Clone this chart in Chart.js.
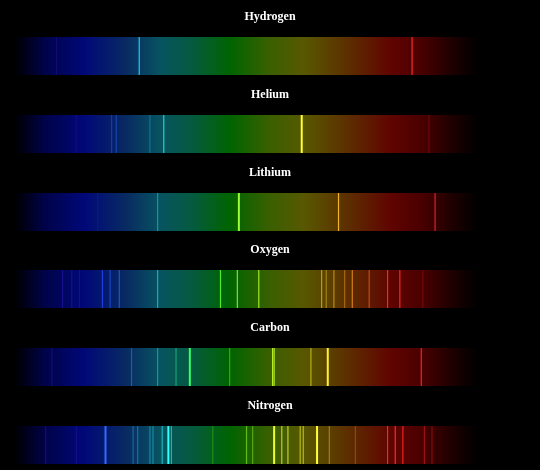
<!DOCTYPE html>
<html><head><meta charset="utf-8">
<script src="https://cdn.jsdelivr.net/npm/chart.js@4/dist/chart.umd.min.js"></script>
<style>html,body{margin:0;background:#000;width:540px;height:470px;overflow:hidden}
.p{position:absolute;left:0;width:540px;height:78px}</style></head><body>
<script>
const elements = ["Hydrogen","Helium","Lithium","Oxygen","Carbon","Nitrogen"];
// line wavelengths (nm) and relative intensities
const hydrogenNm = [427,481,659];
const hydrogenI  = [0.25,0.9,0.9];
const heliumNm = [440,463,466,488,497,587,670];
const heliumI  = [0.3,0.5,0.5,0.4,0.7,1.0,0.3];
const lithiumNm = [454,493,546,611,674];
const lithiumI  = [0.3,0.5,1.0,0.85,0.75];
const oxygenNm = [431,437,442,457,462,468,493,534,545,559,600,603,608,615,620,631,643,651,666];
const oxygenI  = [0.4,0.4,0.4,0.7,0.6,0.6,0.6,0.8,0.8,0.8,0.6,0.5,0.6,0.5,0.7,0.6,0.7,0.8,0.3];
const carbonNm = [424,476,493,505,514,540,568,569,593,604,665];
const carbonI  = [0.3,0.5,0.5,0.5,1.0,0.5,0.8,0.8,0.6,1.0,0.8];
const nitrogenNm = [420,440,459,477,480,488,490,496,500,502,529,551,555,569,574,578,586,588,597,605,622,643,648,653,667,672];
const nitrogenI  = [0.3,0.35,1.0,0.5,0.5,0.5,0.5,0.6,1.0,0.6,0.4,0.6,0.5,1.0,0.7,0.7,0.6,0.6,1.0,0.5,0.4,0.7,0.8,0.8,0.5,0.4];
const allNm=[hydrogenNm,heliumNm,lithiumNm,oxygenNm,carbonNm,nitrogenNm];
const allI=[hydrogenI,heliumI,lithiumI,oxygenI,carbonI,nitrogenI];

function wlRGB(w){w-=8;let r=0,g=0,b=0;
 if(w<440){r=(440-w)/60*0.4;b=1;}else if(w<490){g=(w-440)/50;b=1;}
 else if(w<510){g=1;b=(510-w)/20;}else if(w<580){r=(w-510)/70;g=1;}
 else if(w<645){r=1;g=(645-w)/65;}else{r=1;}
 return [r,g,b];}
function lineColor(w,i){const c=wlRGB(w);const m=0.3+0.7*i;
 const wh=0.2*i;return `rgba(${Math.round(255*Math.min(1,c[0]*m+wh))},${Math.round(255*Math.min(1,c[1]*m+wh))},${Math.round(255*Math.min(1,c[2]*m+wh))},${0.45+0.55*i})`;}
const bgStops=[[398,'#000000'],[404,'#000010'],[420,'#00034a'],[445,'#000878'],[472,'#082a62'],[495,'#075460'],[515,'#055a40'],[540,'#006400'],[565,'#386000'],[588,'#585800'],[612,'#5c3600'],[645,'#600400'],[665,'#4a0000'],[688,'#180000'],[702,'#000000']];
const bgPlugin={id:'bg',beforeDatasetsDraw(ch){const a=ch.chartArea,x=ch.scales.x,ctx=ch.ctx;
 const g=ctx.createLinearGradient(a.left,0,a.right,0);
 bgStops.forEach(s=>g.addColorStop(Math.max(0,Math.min(1,(x.getPixelForValue(s[0])-a.left)/(a.right-a.left))),s[1]));
 ctx.save();ctx.fillStyle=g;ctx.fillRect(a.left,a.top,a.right-a.left,a.bottom-a.top);ctx.restore();}};
const ttl={id:'ttl',afterDraw(ch){const c=ch.ctx;c.save();c.fillStyle='#fff';c.font='bold 12px "Liberation Serif"';c.textAlign='center';c.textBaseline='middle';c.fillText(ch.options.plugins.ttl.text,270,17);c.restore();}};
elements.forEach((name,k)=>{
 const d=document.createElement('div');d.className='p';d.style.top=(k*77.8)+'px';
 const cv=document.createElement('canvas');
 d.appendChild(cv);document.body.appendChild(d);
 const nm=allNm[k],it=allI[k];
 new Chart(cv,{type:'scatter',data:{datasets:[{data:nm.map(w=>({x:w,y:0.5})),pointStyle:'line',rotation:90,radius:19,hoverRadius:19,clip:false,
  borderWidth:nm.map((w,j)=>it[j]>0.9?2:1.2),borderColor:nm.map((w,j)=>lineColor(w,it[j])),backgroundColor:'transparent'}]},
  options:{responsive:true,maintainAspectRatio:false,animation:false,events:[],
   layout:{autoPadding:false,padding:{left:12,right:62,top:37,bottom:3}},
   scales:{x:{type:'linear',min:398,max:702,display:false},y:{min:0,max:1,display:false}},
   plugins:{legend:{display:false},tooltip:{enabled:false},ttl:{text:name}}},
  plugins:[bgPlugin,ttl]});
});
</script></body></html>
